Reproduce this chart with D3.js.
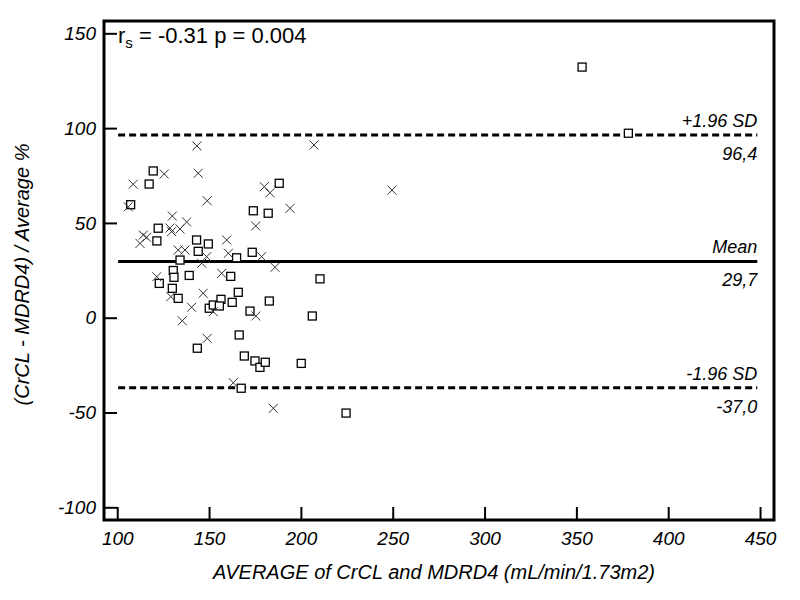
<!DOCTYPE html>
<html>
<head>
<meta charset="utf-8">
<script src="https://cdn.jsdelivr.net/npm/d3@7"></script>
<style>
  body { margin: 0; background: #fff; }
  text { font-family: "Liberation Sans", Arial, sans-serif; }
</style>
</head>
<body>
<div id="chart"></div>
<script>
// ========== data ==========
var squareX = [119.6, 117.4, 107.3, 122.3, 121.6, 143.2, 149.6, 144.1, 134.2, 130.5, 130.9, 139.2, 122.9, 130.0, 133.2, 150.1, 152.3, 143.6,
               188.2, 174.1, 182.2, 165.0, 173.5, 161.8, 210.4, 165.9, 156.5, 155.6, 162.6, 182.8, 172.3, 206.2, 166.4, 169.2, 175.0, 177.7,
               180.6, 200.2, 167.5, 224.6, 353.1, 378.3];
var squareY = [77.4, 70.5, 59.6, 47.2, 40.5, 41.0, 38.9, 35.0, 30.4, 24.9, 21.3, 22.3, 18.1, 15.5, 10.2, 5.0, 6.7, -16.1,
               70.9, 56.4, 55.1, 31.6, 34.5, 21.8, 20.5, 13.4, 9.7, 6.2, 8.1, 8.8, 3.5, 0.9, -9.1, -20.2, -22.8, -26.2,
               -23.5, -24.1, -37.2, -50.3, 132.2, 97.3];
var crossX = [125.6, 144.1, 108.7, 149.0, 106.0, 130.0, 137.8, 134.2, 129.6, 128.7, 114.2, 116.0, 112.4, 133.2, 136.9, 148.7, 146.0,
              121.5, 129.2, 146.8, 140.5, 135.4, 149.0, 180.1, 183.2, 194.1, 175.4, 159.6, 160.5, 178.6, 185.9, 156.9, 152.3, 175.5,
              163.2, 185.0, 143.4, 207.1, 249.6];
var crossY = [75.8, 76.2, 70.4, 61.7, 58.5, 53.6, 50.5, 46.8, 45.4, 47.3, 43.6, 42.4, 39.2, 35.7, 35.7, 32.2, 28.7,
              21.6, 11.1, 12.9, 5.5, -1.6, -10.9, 69.1, 65.9, 57.7, 48.4, 41.0, 34.0, 32.2, 26.6, 23.4, 3.2, 0.9,
              -34.3, -47.8, 90.6, 91.1, 67.3];

var xTicks = [100, 150, 200, 250, 300, 350, 400, 450];
var yTicks = [-100, -50, 0, 50, 100, 150];

var limitValues = [96.4, 29.7, -37.0];
var limitNames = ["+1.96 SD", "Mean", "-1.96 SD"];
var limitTexts = ["96,4", "29,7", "-37,0"];

// ========== chart setup ==========
var svgWidth = 800, svgHeight = 600;
var plot = {left: 104, right: 774, top: 21, bottom: 520};

var svg = d3.select("#chart").append("svg").attr("width", svgWidth).attr("height", svgHeight);

var xScale = d3.scaleLinear().domain([92.8, 457.6]).range([plot.left, plot.right]);
var yScale = d3.scaleLinear().domain([-106.7, 156.5]).range([plot.bottom, plot.top]);

// ========== axes (ticks pointing inward) ==========
// plain hyphen for negatives, like the original
var xAxis = d3.axisBottom(xScale).tickValues(xTicks).tickFormat(d => String(d)).tickSize(-13).tickPadding(12);
var yAxis = d3.axisLeft(yScale).tickValues(yTicks).tickFormat(d => String(d)).tickSize(-13).tickPadding(8);

var gx = svg.append("g").attr("transform", `translate(0, ${plot.bottom})`).call(xAxis);
var gy = svg.append("g").attr("transform", `translate(${plot.left}, 0)`).call(yAxis);

[gx, gy].forEach(function(g) {
  g.select(".domain").remove();
  g.selectAll(".tick line").attr("stroke", "#000").attr("stroke-width", 2);
  g.selectAll(".tick text")
    .attr("fill", "#000")
    .attr("font-size", "19px")
    .attr("font-style", "italic")
    .attr("font-family", "Liberation Sans, Arial, sans-serif");
});

// ========== limit lines ==========
limitValues.forEach(function(v, i) {
  var y = yScale(v);
  svg.append("line")
    .attr("x1", xScale(100.5)).attr("x2", xScale(448.5))
    .attr("y1", y).attr("y2", y)
    .attr("stroke", "#000")
    .attr("stroke-width", 3)
    .attr("stroke-dasharray", i === 1 ? null : "7,4");

  svg.append("text")
    .attr("x", xScale(448.5)).attr("y", y - 8)
    .attr("text-anchor", "end")
    .attr("font-size", "18px")
    .attr("font-style", "italic")
    .text(limitNames[i]);

  svg.append("text")
    .attr("x", xScale(448.5)).attr("y", y + 25)
    .attr("text-anchor", "end")
    .attr("font-size", "18px")
    .attr("font-style", "italic")
    .text(limitTexts[i]);
});

// ========== points ==========
var sq = 8;
svg.append("g").selectAll("rect")
  .data(d3.zip(squareX, squareY))
  .enter()
  .append("rect")
  .attr("x", d => xScale(d[0]) - sq / 2)
  .attr("y", d => yScale(d[1]) - sq / 2)
  .attr("width", sq)
  .attr("height", sq)
  .attr("fill", "#fff")
  .attr("stroke", "#000")
  .attr("stroke-width", 1.3);

var cr = 4.5;
svg.append("g").selectAll("path")
  .data(d3.zip(crossX, crossY))
  .enter()
  .append("path")
  .attr("d", function(d) {
    var x = xScale(d[0]), y = yScale(d[1]);
    return `M${x - cr},${y - cr}L${x + cr},${y + cr}M${x - cr},${y + cr}L${x + cr},${y - cr}`;
  })
  .attr("fill", "none")
  .attr("stroke", "#333")
  .attr("stroke-width", 1);

// ========== frame ==========
svg.append("rect")
  .attr("x", plot.left).attr("y", plot.top)
  .attr("width", plot.right - plot.left)
  .attr("height", plot.bottom - plot.top)
  .attr("fill", "none")
  .attr("stroke", "#000")
  .attr("stroke-width", 3);

// ========== stats text ==========
var stat = svg.append("text")
  .attr("x", 118).attr("y", 43)
  .attr("font-size", "22px");
stat.append("tspan").text("r");
stat.append("tspan").attr("font-size", "15px").attr("dy", 5).text("s");
stat.append("tspan").attr("dy", -5).text(" = -0.31 p = 0.004");

// ========== axis titles ==========
svg.append("text")
  .attr("x", (plot.left + plot.right) / 2 - 5)
  .attr("y", 579)
  .attr("text-anchor", "middle")
  .attr("font-size", "20px")
  .attr("font-style", "italic")
  .text("AVERAGE of CrCL and MDRD4 (mL/min/1.73m2)");

svg.append("text")
  .attr("transform", `translate(29, ${(plot.top + plot.bottom) / 2 + 4}) rotate(-90)`)
  .attr("text-anchor", "middle")
  .attr("font-size", "20px")
  .attr("font-style", "italic")
  .text("(CrCL - MDRD4) / Average %");
</script>
</body>
</html>
